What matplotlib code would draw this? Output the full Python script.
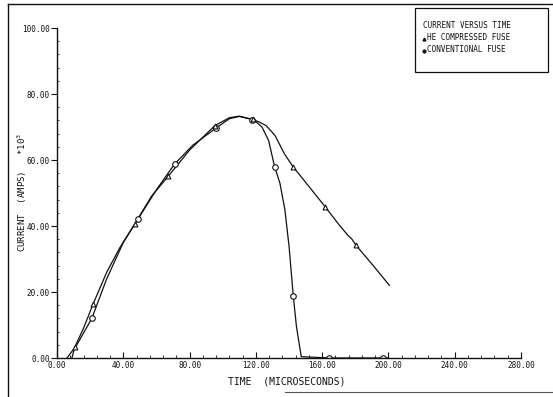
import matplotlib
matplotlib.use("Agg")
import matplotlib.pyplot as plt
from matplotlib.ticker import MultipleLocator, FormatStrFormatter
from matplotlib.lines import Line2D
from matplotlib.patches import Rectangle

# curve traces (time in microseconds, current in kA)
conv_t = [6, 12, 21, 30, 40, 49, 60, 71, 82, 96, 104, 110, 116, 120, 123.7, 127.7,
          131.3, 134.5, 137.5, 140, 142.6, 144.5, 147.4, 165, 200]
conv_i = [0, 4, 12, 24, 35, 42.2, 51, 58.8, 64.5, 69.7, 72.5, 73.2, 72.5, 71.6, 70.0, 65.9,
          58, 53, 45, 34, 18.7, 9.5, 0.4, 0, 0]
he_t = [9, 10.8, 16, 21.9, 30, 38, 47, 57, 67, 80, 95.2, 104, 110, 118, 122.5, 126.3,
        131.6, 137.3, 142.4, 152, 161.7, 170, 175.5, 178, 180.5, 190, 200.6]
he_i = [0, 3.4, 9, 16.5, 26, 33.5, 40.7, 49, 55, 63, 70.4, 72.8, 73.3, 72.3, 71.4, 70.4,
        67.4, 61.8, 58, 52, 45.9, 40.5, 37.2, 36, 34.1, 28.5, 22]

# symbol positions
conv_mt = [20.9, 49, 71, 96.2, 117.5, 131.3, 142.6, 164, 197]
conv_mi = [12.1, 42.2, 58.8, 69.7, 72, 58, 18.7, 0, 0]
he_mt = [10.8, 21.9, 47, 67, 95.2, 118, 142.4, 161.7, 180.5]
he_mi = [3.4, 16.5, 40.7, 55, 70.4, 72.3, 58, 45.9, 34.1]

legend_title = "CURRENT VERSUS TIME"
legend_he = "HE COMPRESSED FUSE"
legend_conv = "CONVENTIONAL FUSE"

W, H = 553, 397
fig = plt.figure(figsize=(W / 100, H / 100), dpi=100)
ax = fig.add_axes([57 / W, 1 - 358 / H, (521 - 57) / W, (358 - 28) / H])

ink = "#111111"
ax.plot(conv_t, conv_i, color=ink, lw=0.9)
ax.plot(he_t, he_i, color=ink, lw=0.9)
ax.plot(conv_mt, conv_mi, ls="none", marker="o", ms=4, mfc="white", mec=ink, mew=0.8)
ax.plot(he_mt, he_mi, ls="none", marker="^", ms=3.5, mfc="white", mec=ink, mew=0.8)

ax.set_xlim(0, 280)
ax.set_ylim(0, 100)
ax.xaxis.set_major_locator(MultipleLocator(40))
ax.xaxis.set_minor_locator(MultipleLocator(8))
ax.yaxis.set_major_locator(MultipleLocator(20))
ax.yaxis.set_minor_locator(MultipleLocator(4))
ax.xaxis.set_major_formatter(FormatStrFormatter("%.2f"))
ax.yaxis.set_major_formatter(FormatStrFormatter("%.2f"))

for s in ("top", "right"):
    ax.spines[s].set_visible(False)
for s in ("left", "bottom"):
    ax.spines[s].set_linewidth(1.0)
    ax.spines[s].set_color(ink)

mono = "DejaVu Sans Mono"
ax.tick_params(axis="x", which="major", direction="in", length=4, width=0.8,
               labelsize=5.5, pad=2, colors=ink)
ax.tick_params(axis="x", which="minor", direction="in", length=2, width=0.6, colors=ink)
ax.tick_params(axis="y", which="major", direction="out", length=4, width=0.8,
               labelsize=5.5, pad=1, colors=ink)
ax.tick_params(axis="y", which="minor", direction="in", length=1.5, width=0.6, colors=ink)
for lab in ax.get_xticklabels() + ax.get_yticklabels():
    lab.set_family(mono)

fig.text(287 / W, 1 - 381 / H, "TIME  (MICROSECONDS)", family=mono, fontsize=7,
         ha="center", va="center", color=ink)
fig.text(22 / W, 1 - 192 / H, "CURRENT  (AMPS)   *10$^{3}$", family=mono, fontsize=6.5,
         rotation=90, ha="center", va="center", color=ink)

# legend box drawn like the plotter note
fig.patches.append(Rectangle((415 / W, 1 - 72 / H), 133 / W, 64 / H,
                             transform=fig.transFigure, fill=False, ec=ink, lw=0.9))
fig.text(423 / W, 1 - 25 / H, legend_title, family=mono, fontsize=5.5, va="center", color=ink)
fig.text(427 / W, 1 - 38 / H, legend_he, family=mono, fontsize=5.5, va="center", color=ink)
fig.text(427 / W, 1 - 50 / H, legend_conv, family=mono, fontsize=5.5, va="center", color=ink)
fig.lines.append(Line2D([424 / W], [1 - 39 / H], transform=fig.transFigure, ls="none",
                        marker="^", ms=2, color=ink))
fig.lines.append(Line2D([424 / W], [1 - 51 / H], transform=fig.transFigure, ls="none",
                        marker="o", ms=2, color=ink))

# page border from the scan
fig.lines.append(Line2D([8 / W, 8 / W], [0, 1 - 4 / H], transform=fig.transFigure, color=ink, lw=1))
fig.lines.append(Line2D([8 / W, 1], [1 - 4 / H, 1 - 4 / H], transform=fig.transFigure, color=ink, lw=1))
fig.lines.append(Line2D([285 / W, 1], [1 - 392 / H, 1 - 392 / H], transform=fig.transFigure,
                        color="#555555", lw=0.8))

fig.savefig("out.png", dpi=100)
